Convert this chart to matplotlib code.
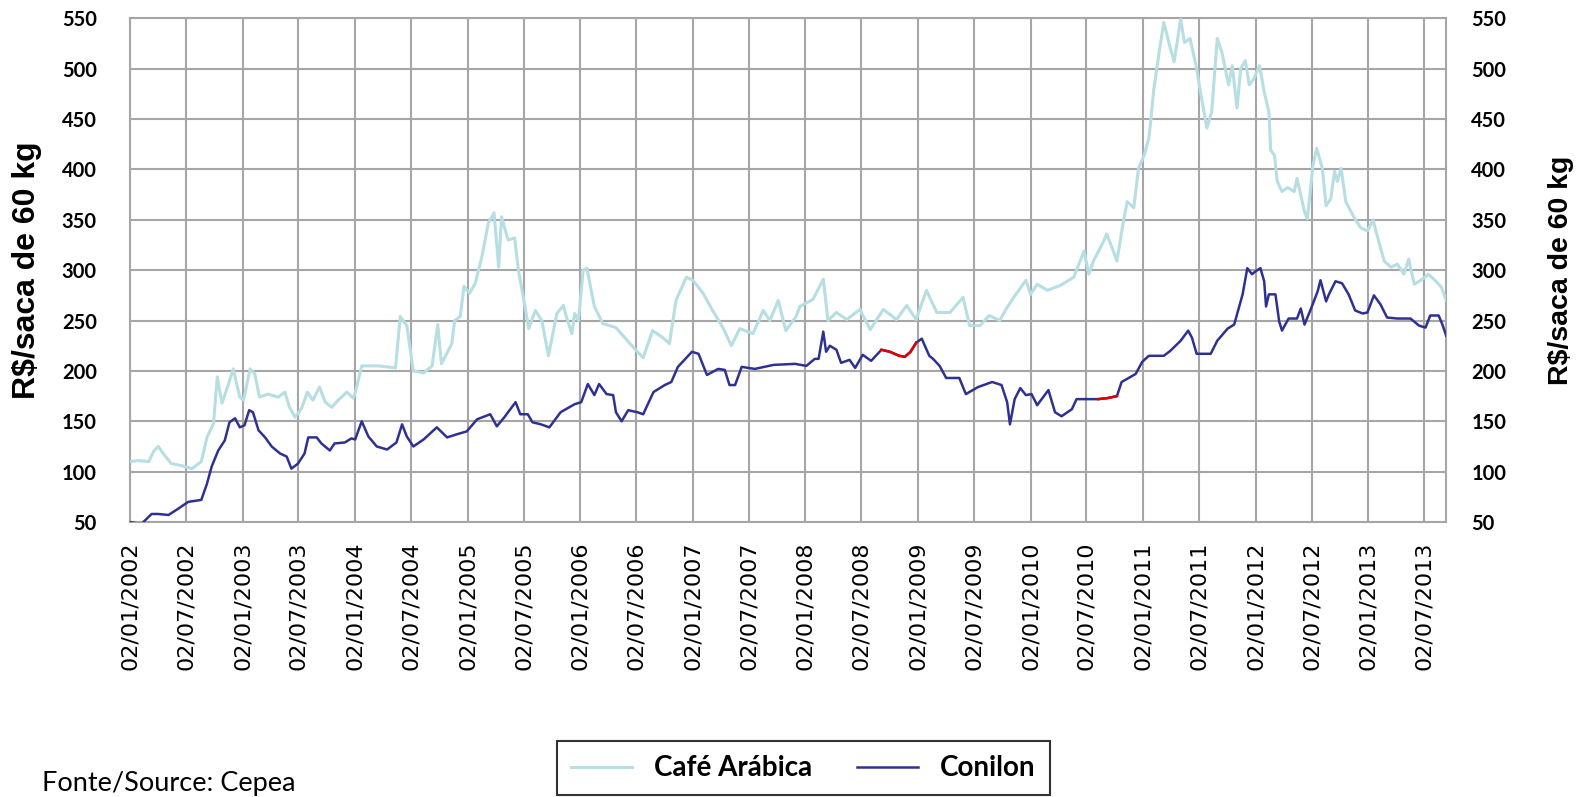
import datetime as dt
import matplotlib
matplotlib.use("Agg")
import matplotlib.pyplot as plt
import matplotlib.dates as mdates

# months elapsed since 02/01/2002
arabica_month = [0, 0.9, 2.0, 2.5, 3.0, 3.7, 4.4, 5.5, 6.6, 7.6, 8.2, 8.9, 9.3, 9.8, 10.5, 11.0,
                 11.7, 12.1, 12.8, 13.3, 13.8, 14.7, 15.8, 16.5, 17.0, 17.6, 18.3, 18.9, 19.5,
                 20.2, 20.8, 21.5, 22.2, 23.1, 23.8, 24.0, 24.7, 26.5, 28.3, 28.8, 29.5, 30.2,
                 31.3, 32.2, 32.8, 33.2, 34.3, 34.6, 35.2, 35.6, 36.2, 36.8, 37.5, 38.2, 38.8,
                 39.3, 39.6, 40.3, 41.0, 41.4, 42.1, 42.5, 43.2, 43.9, 44.6, 45.5, 46.2, 46.5,
                 47.1, 47.4, 47.8, 48.3, 48.7, 49.5, 50.4, 51.8, 53.3, 54.7, 55.7, 56.8, 57.5,
                 58.2, 59.3, 60.0, 61.1, 62.1, 63.2, 64.1, 65.0, 66.4, 67.5, 68.2, 69.1, 69.9,
                 71.0, 71.4, 72.8, 73.9, 74.4, 75.3, 76.4, 77.8, 78.9, 80.3, 81.7, 82.8, 83.8,
                 84.9, 86.0, 87.4, 88.8, 89.5, 90.6, 91.6, 92.7, 93.5, 94.2, 95.5, 96.0, 96.7,
                 97.8, 99.2, 100.6, 101.7, 102.2, 102.7, 103.8, 104.1, 104.7, 105.2, 105.9,
                 106.3, 107.0, 107.5, 108.1, 108.6, 108.8, 109.1, 109.7, 110.2, 110.9, 111.3,
                 112.0, 112.4, 113.0, 113.7, 114.1, 114.8, 115.3, 115.9, 116.4, 117.1, 117.5,
                 118.0, 118.4, 118.9, 119.3, 119.8, 120.4, 120.9, 121.4, 121.6, 122.0, 122.3,
                 122.8, 123.4, 124.1, 124.4, 125.2, 125.5, 126.1, 126.5, 127.1, 127.5, 128.0,
                 128.4, 128.7, 129.1, 129.6, 130.5, 131.2, 131.9, 132.5, 133.1, 133.7, 134.4,
                 135.1, 135.8, 136.3, 136.9, 137.6, 138.4, 139.1, 139.8, 140.3]
arabica = [110, 111, 110, 120, 125, 116, 108, 106, 103, 110, 134, 148, 194, 168, 187, 202,
           174, 171, 202, 197, 174, 177, 174, 179, 164, 154, 163, 179, 171,
           184, 169, 164, 171, 179, 173, 178, 205, 205, 203, 254, 245, 200,
           198, 205, 246, 207, 227, 250, 254, 284, 277, 287, 313, 347, 357,
           303, 353, 330, 332, 300, 264, 242, 260, 250, 215, 257, 265, 254,
           237, 257, 250, 300, 302, 264, 247, 243, 227, 213, 240, 233, 227,
           270, 293, 290, 277, 260, 243, 225, 242, 237, 260, 250, 270, 240,
           254, 264, 271, 291, 250, 258, 251, 261, 241, 261, 251, 265, 251,
           280, 258, 258, 273, 245, 245, 255, 250, 263, 273, 290, 276, 286,
           280, 285, 293, 319, 296, 309, 329, 336, 322, 309, 349,
           368, 362, 401, 414, 431, 447, 477, 516, 546, 520, 507,
           549, 526, 530, 500, 477, 441, 457, 530, 516, 484, 503,
           461, 500, 508, 484, 490, 503, 477, 457, 419, 414, 388,
           378, 382, 378, 391, 358, 351, 404, 421, 401, 364, 371,
           398, 388, 401, 368, 352, 342, 339, 350, 329, 309, 303,
           306, 296, 311, 286, 290, 296, 290, 283, 270]

conilon_month = [0, 1.2, 2.3, 3.0, 4.1, 5.1, 6.2, 7.6, 8.2, 8.7, 9.4, 10.1, 10.6, 11.2, 11.7,
                 12.2, 12.7, 13.1, 13.7, 14.4, 15.1, 16.0, 16.7, 17.2, 17.9, 18.6, 19.0, 19.9,
                 20.4, 21.3, 21.8, 22.9, 23.6, 24.0, 24.7, 25.4, 26.3, 27.4, 28.4, 29.0, 29.5,
                 30.2, 31.3, 32.7, 33.8, 34.8, 35.9, 37.0, 38.4, 39.1, 39.9, 41.1, 41.6, 42.4,
                 42.9, 43.8, 44.7, 45.9, 47.4, 48.1, 48.8, 49.5, 50.0, 50.8, 51.5, 51.8, 52.4,
                 53.1, 54.1, 54.7, 55.8, 57.0, 57.7, 58.4, 59.3, 59.9, 60.6, 61.5, 62.7, 63.4,
                 63.9, 64.5, 65.2, 66.6, 68.6, 70.9, 72.1, 73.0, 73.4, 73.9, 74.2, 74.6, 75.3,
                 75.8, 76.7, 77.3, 78.1, 79.0, 80.1, 81.0, 82.0, 82.6, 83.2, 83.8, 84.4, 85.2,
                 85.6, 86.3, 87.0, 88.4, 89.1, 90.4, 91.9, 92.9, 93.5, 93.8, 94.3, 94.9, 95.5,
                 96.1, 96.7, 97.9, 98.6, 99.3, 100.4, 100.9, 102.2, 103.2, 104.2, 105.2, 105.7,
                 107.2, 107.9, 108.6, 110.2, 110.9, 112.0, 112.8, 113.2, 113.7, 115.2, 115.9,
                 117.0, 117.7, 118.6, 119.1, 119.6, 120.0, 120.5, 120.9, 121.1, 121.4, 122.1,
                 122.5, 122.8, 123.5, 124.4, 124.8, 125.2, 125.9, 126.6, 126.9, 127.5, 127.8,
                 128.5, 129.2, 129.9, 130.6, 131.4, 131.9, 132.6, 133.3, 134.0, 135.1, 136.5,
                 137.4, 138.1, 138.6, 139.5, 139.9, 140.3]
conilon = [50, 48, 58, 58, 57, 63, 70, 72, 88, 105, 121, 131, 149, 153, 144,
           146, 161, 159, 141, 134, 125, 118, 115, 103, 108, 118, 134, 134,
           128, 121, 128, 129, 133, 132, 150, 135, 125, 122, 129, 147, 135,
           125, 132, 144, 134, 137, 140, 152, 157, 145, 154, 169, 157, 157,
           149, 147, 144, 159, 167, 169, 187, 176, 187, 177, 176, 159, 150,
           161, 159, 157, 179, 186, 189, 204, 213, 219, 217, 196, 202, 201,
           186, 186, 204, 202, 206, 207, 205, 212, 212, 239, 219, 225, 221,
           208, 211, 203, 216, 210, 221, 219, 215, 214, 219, 228, 232, 215,
           212, 205, 193, 193, 177, 184, 189, 186, 169, 147, 172, 183, 176,
           177, 166, 181, 159, 155, 162, 172, 172, 172, 173, 175, 189,
           197, 209, 215, 215, 220, 230, 240, 233, 217, 217, 230,
           242, 246, 276, 302, 296, 299, 302, 289, 264, 276, 276,
           249, 240, 252, 252, 262, 246, 262, 279, 290, 269, 276,
           289, 287, 276, 260, 257, 258, 275, 266, 253, 252, 252,
           245, 243, 255, 255, 246, 235]

# stretches of the Conilon line drawn in red (gaps in the series)
gap1_month = [80.1, 81.0, 82.0, 82.6, 83.2, 83.8]
gap1 = [221, 219, 215, 214, 219, 228]
gap2_month = [103.2, 104.2, 105.2]
gap2 = [172, 173, 175]

start = dt.datetime(2002, 1, 2)


def to_dates(months):
    return [start + dt.timedelta(days=m * 365.25 / 12) for m in months]


fig = plt.figure(figsize=(15.8, 7.97), dpi=100)
ax = fig.add_axes([0.0823, 0.345, 0.833, 0.632])

ax.plot(to_dates(arabica_month), arabica, color="#B7DEE2", lw=2.2, label="Café Arábica", zorder=3)
ax.plot(to_dates(conilon_month), conilon, color="#2E3192", lw=1.8, label="Conilon", zorder=4)
ax.plot(to_dates(gap1_month), gap1, color="#E00000", lw=1.8, zorder=5)
ax.plot(to_dates(gap2_month), gap2, color="#E00000", lw=1.8, zorder=5)

ax.set_ylim(50, 550)
ax.set_yticks(range(50, 551, 50))
ax.set_xlim(start, to_dates([140.3])[0])

xt = []
for y in range(2002, 2014):
    xt.append(dt.datetime(y, 1, 2))
    xt.append(dt.datetime(y, 7, 2))
ax.set_xticks(xt)
ax.xaxis.set_major_formatter(mdates.DateFormatter("%d/%m/%Y"))
plt.setp(ax.get_xticklabels(), rotation=90, fontsize=16, family="DejaVu Sans")

ax.grid(True, color="#A6A6A6", lw=1.5)
ax.set_axisbelow(True)
for s in ax.spines.values():
    s.set_color("#A6A6A6")
    s.set_linewidth(1.5)
ax.tick_params(axis="x", length=0, pad=14)
ax.tick_params(axis="y", length=0, pad=24)

for t in ax.get_yticklabels():
    t.set_fontsize(14.5)
    t.set_fontweight("bold")
    t.set_family("Lato")

ax2 = ax.twinx()
ax2.set_ylim(50, 550)
ax2.set_yticks(range(50, 551, 50))
ax2.tick_params(length=0, pad=18)
for s in ax2.spines.values():
    s.set_visible(False)
for t in ax2.get_yticklabels():
    t.set_fontsize(14.5)
    t.set_fontweight("bold")
    t.set_family("Lato")

ax.set_ylabel("R$/saca de 60 kg", fontsize=23, fontweight="bold", family="Liberation Sans", labelpad=14)
ax2.set_ylabel("R$/saca de 60 kg", fontsize=20.5, fontweight="bold", family="Liberation Sans", labelpad=30)

leg = fig.legend(loc="center", bbox_to_anchor=(0.5085, 0.036), ncol=2, fancybox=False,
                 frameon=True, edgecolor="black", handlelength=2.2, columnspacing=1.6,
                 borderpad=0.5, prop={"family": "Lato", "weight": "bold", "size": 20})
leg.get_frame().set_linewidth(1.5)

fig.text(0.0266, 0.008, "Fonte/Source: Cepea", fontsize=19.5, family="Lato")

fig.savefig("out.png", dpi=100)
